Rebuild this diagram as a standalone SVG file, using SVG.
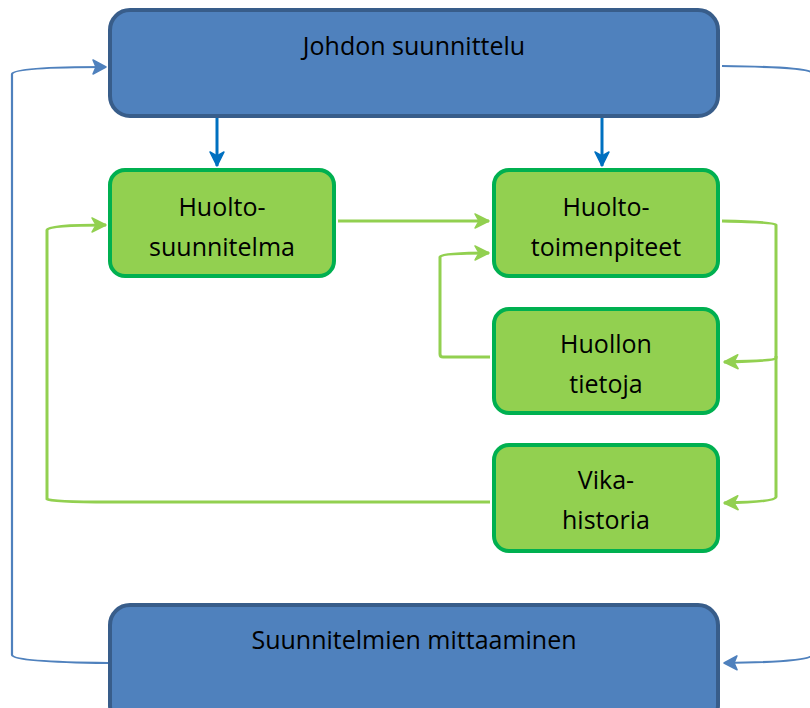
<svg xmlns="http://www.w3.org/2000/svg" width="810" height="708" viewBox="0 0 810 708">
<defs>
<style>
.blue{fill:#4f81bd;stroke:#385d8a;stroke-width:4}
.green{fill:#92d050;stroke:#00b050;stroke-width:4}
text{font-family:"Open Sans","Liberation Sans",sans-serif;font-size:25px;fill:#000;text-anchor:middle}
.cb{fill:none;stroke:#4f81bd;stroke-width:2.2}
.cg{fill:none;stroke:#92d050;stroke-width:3}
.cd{fill:none;stroke:#0070c0;stroke-width:3}
</style>
<marker id="ab" markerUnits="userSpaceOnUse" markerWidth="20" markerHeight="20" viewBox="-16 -10 20 20" refX="0" refY="0" orient="auto">
<path d="M-13,-7 L0,0 L-13,7 L-10,0 Z" fill="#4f81bd" stroke="#4f81bd" stroke-width="1.5" stroke-linejoin="round"/>
</marker>
<marker id="ag" markerUnits="userSpaceOnUse" markerWidth="20" markerHeight="20" viewBox="-16 -10 20 20" refX="0" refY="0" orient="auto">
<path d="M-14,-7 L0,0 L-14,7 L-10,0 Z" fill="#92d050" stroke="#92d050" stroke-width="1.5" stroke-linejoin="round"/>
</marker>
<marker id="ad" markerUnits="userSpaceOnUse" markerWidth="20" markerHeight="20" viewBox="-16 -10 20 20" refX="0" refY="0" orient="auto">
<path d="M-14,-7 L0,0 L-14,7 L-10,0 Z" fill="#0070c0" stroke="#0070c0" stroke-width="1.5" stroke-linejoin="round"/>
</marker>
</defs>
<g id="connectors">
<path class="cd" d="M217,118 L217,166" marker-end="url(#ad)"/>
<path class="cd" d="M602,118 L602,166" marker-end="url(#ad)"/>
<path class="cb" d="M108,663 Q14,662 12,655 L12,74 Q14,67 106,67" marker-end="url(#ab)"/>
<path class="cb" d="M722,66 Q810,67 812,73 L812,655 Q810,662 724,663" marker-end="url(#ab)"/>
<path class="cg" d="M338,221 L489,221" marker-end="url(#ag)"/>
<path class="cg" d="M722,221 Q775,222 776,225 L776,358 Q775,361 724,362" marker-end="url(#ag)"/>
<path class="cg" d="M776,356 L776,497 Q775,502 724,503" marker-end="url(#ag)"/>
<path class="cg" d="M490,357 L443,357 Q440,357 440,354 L440,257 Q441,253 489,253" marker-end="url(#ag)"/>
<path class="cg" d="M490,502 L110,502 Q50,502 47,499 L47,230 Q48,225 106,225" marker-end="url(#ag)"/>
</g>
<g id="n1"><rect class="blue" x="110" y="10" width="608" height="106" rx="20"/><text x="414" y="55">Johdon suunnittelu</text></g>
<g id="n2"><rect class="green" x="110" y="170" width="224" height="106" rx="15"/><text x="222" y="216">Huolto-</text><text x="222" y="256">suunnitelma</text></g>
<g id="n3"><rect class="green" x="494" y="170" width="224" height="106" rx="15"/><text x="606" y="216">Huolto-</text><text x="606" y="256">toimenpiteet</text></g>
<g id="n4"><rect class="green" x="494" y="309" width="224" height="104" rx="15"/><text x="606" y="353">Huollon</text><text x="606" y="393">tietoja</text></g>
<g id="n5"><rect class="green" x="494" y="445" width="224" height="106" rx="15"/><text x="606" y="489">Vika-</text><text x="606" y="529">historia</text></g>
<g id="n6"><rect class="blue" x="110" y="605" width="608" height="120" rx="20"/><text x="414" y="649">Suunnitelmien mittaaminen</text></g>
</svg>
